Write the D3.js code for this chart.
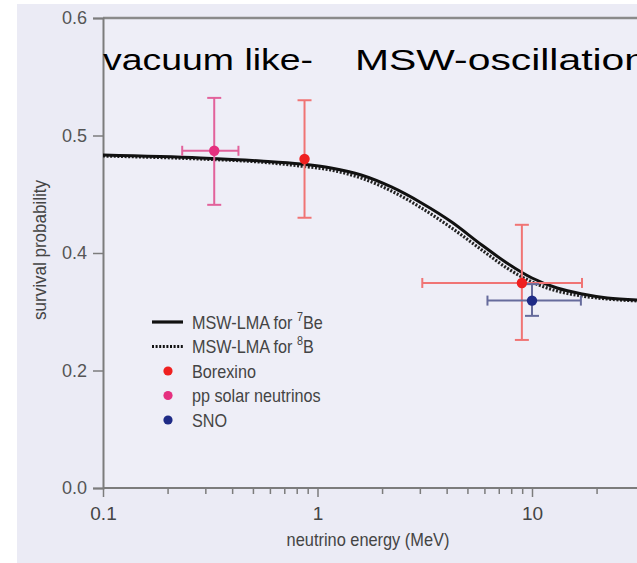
<!DOCTYPE html>
<html>
<head>
<meta charset="utf-8">
<script src="https://cdn.jsdelivr.net/npm/d3@7"></script>
<style>
  html, body { margin: 0; padding: 0; background: #ffffff; }
  svg { display: block; }
  text { font-family: "Liberation Sans", Arial, sans-serif; }
</style>
</head>
<body>
<svg id="chart" width="637" height="563"></svg>
<script>
// ---- data ----
const energyMajorTicks = [0.1, 1, 10];
const energyMajorLabels = ["0.1", "1", "10"];
const energyMinorTicks = [0.2, 0.3, 0.4, 0.5, 0.6, 0.7, 0.8, 0.9, 2, 3, 4, 5, 6, 7, 8, 9, 20];
const probTicks = [0.0, 0.2, 0.4, 0.5, 0.6];
const probTickLabels = ["0.0", "0.2", "0.4", "0.5", "0.6"];

// MSW-LMA survival probability curves (energy in MeV)
const curveEnergy = [0.1, 0.285, 0.544, 0.837, 1.157, 1.598, 2.21, 3.053, 4.221, 5.833, 7.636, 10.0, 13.09, 17.15, 22.46, 31.7];
const be7Survival = [0.4834, 0.4809, 0.4783, 0.4757, 0.4723, 0.4664, 0.4562, 0.4426, 0.4264, 0.4068, 0.3830, 0.3574, 0.3404, 0.3302, 0.3234, 0.3200];
const b8Survival  = [0.4826, 0.4800, 0.4774, 0.4740, 0.4706, 0.4638, 0.4528, 0.4383, 0.4213, 0.4026, 0.3745, 0.3506, 0.3353, 0.3268, 0.3217, 0.3183];

// measurements
const pointSource   = ["pp solar neutrinos", "Borexino", "Borexino", "SNO"];
const pointEnergy   = [0.33, 0.87, 8.97, 10.0];
const pointSurvival = [0.487, 0.480, 0.349, 0.319];
const pointELow     = [0.234, null, 3.08, 6.2];
const pointEHigh    = [0.428, null, 17.1, 16.9];
const pointPLow     = [0.441, 0.430, 0.252, 0.293];
const pointPHigh    = [0.532, 0.530, 0.424, 0.347];

const legendCurves = ["7Be", "8B"];
const legendSources = ["Borexino", "pp solar neutrinos", "SNO"];

const headingLeft = "vacuum like-";
const headingRight = "MSW-oscillation";

// ---- styling ----
const dotColor = { "Borexino": "#ef2020", "pp solar neutrinos": "#e5307f", "SNO": "#1e2a86" };
const barColor = { "Borexino": "#f07474", "pp solar neutrinos": "#e2629b", "SNO": "#666b9c" };
const axisColor = "#7c7c7c";

const svg = d3.select("#chart");

// condensed label: regular face squeezed horizontally
function condensedText(parent, px, py, size, squeeze) {
  return parent.append("text")
    .attr("transform", `translate(${px},${py}) scale(${squeeze},1)`)
    .attr("font-size", size).attr("fill", "#444");
}

// panel background
svg.append("rect").attr("x", 17).attr("y", 4).attr("width", 620).attr("height", 559).attr("fill", "#ebebf5");

const x = d3.scaleLog().domain([0.1, 10]).range([103, 532]);
// the printed scale puts equal spacing between each labelled tick
const y = d3.scaleLinear().domain(probTicks).range([488, 370.5, 253, 135.5, 18]);

// plot area
svg.append("rect").attr("x", x(0.1)).attr("y", y(0.6))
  .attr("width", 637 - x(0.1)).attr("height", y(0) - y(0.6)).attr("fill", "#eeeef7");

// top frame line
svg.append("line").attr("x1", x(0.1)).attr("x2", 637).attr("y1", y(0.6)).attr("y2", y(0.6))
  .attr("stroke", "#8a8a8a").attr("stroke-width", 2.5);

// y axis
const yAxis = d3.axisLeft(y).tickValues(probTicks).tickFormat((d, i) => probTickLabels[i])
  .tickSize(10).tickPadding(6);
const gy = svg.append("g").attr("transform", `translate(${x(0.1)},0)`).call(yAxis);
gy.select(".domain").attr("stroke", axisColor).attr("stroke-width", 2);
gy.selectAll(".tick line").attr("stroke", axisColor).attr("stroke-width", 1.5);
gy.selectAll(".tick text").attr("fill", "#555").attr("font-size", 18)
  .attr("font-family", "Liberation Sans, Arial, sans-serif");

// x axis
const xAxisMajor = d3.axisBottom(x).tickValues(energyMajorTicks)
  .tickFormat((d, i) => energyMajorLabels[i]).tickSize(9).tickPadding(10);
const gx = svg.append("g").attr("transform", `translate(0,${y(0)})`).call(xAxisMajor);
gx.select(".domain").remove();
gx.append("line").attr("x1", x(0.1)).attr("x2", 637).attr("stroke", axisColor).attr("stroke-width", 2);
gx.selectAll(".tick line").attr("stroke", axisColor).attr("stroke-width", 1.5);
gx.selectAll(".tick text").attr("fill", "#444").attr("font-size", 19)
  .attr("font-family", "Liberation Sans, Arial, sans-serif");

const xAxisMinor = d3.axisBottom(x).tickValues(energyMinorTicks).tickFormat("").tickSize(6);
const gxm = svg.append("g").attr("transform", `translate(0,${y(0)})`).call(xAxisMinor);
gxm.select(".domain").remove();
gxm.selectAll(".tick line").attr("stroke", axisColor).attr("stroke-width", 1.5);

// axis titles
condensedText(svg, 368, 546, 18, 0.91).attr("text-anchor", "middle").text("neutrino energy (MeV)");
svg.append("text").attr("transform", "translate(46,250) rotate(-90) scale(0.945,1)")
  .attr("text-anchor", "middle").attr("font-size", 18).attr("fill", "#444").text("survival probability");

// curves
const line = d3.line().x(d => x(d[0])).y(d => y(d[1])).curve(d3.curveMonotoneX);
const b8Pts = curveEnergy.map((e, i) => [e, b8Survival[i]]);
const be7Pts = curveEnergy.map((e, i) => [e, be7Survival[i]]);
svg.append("path").datum(b8Pts).attr("d", line).attr("fill", "none")
  .attr("stroke", "#222").attr("stroke-width", 3.2).attr("stroke-dasharray", "2,1.6");
svg.append("path").datum(be7Pts).attr("d", line).attr("fill", "none")
  .attr("stroke", "#111").attr("stroke-width", 3);

// error bars and points
const pts = pointSource.map((s, i) => ({
  s, e: pointEnergy[i], p: pointSurvival[i],
  eLo: pointELow[i], eHi: pointEHigh[i], pLo: pointPLow[i], pHi: pointPHigh[i]
}));
const bars = svg.append("g");
pts.forEach(d => {
  const c = barColor[d.s];
  const cx = x(d.e), cy = y(d.p);
  bars.append("line").attr("x1", cx).attr("x2", cx).attr("y1", y(d.pLo)).attr("y2", y(d.pHi))
    .attr("stroke", c).attr("stroke-width", 2);
  [d.pLo, d.pHi].forEach(v => bars.append("line").attr("x1", cx - 7).attr("x2", cx + 7)
    .attr("y1", y(v)).attr("y2", y(v)).attr("stroke", c).attr("stroke-width", 2));
  if (d.eLo !== null) {
    bars.append("line").attr("x1", x(d.eLo)).attr("x2", x(d.eHi)).attr("y1", cy).attr("y2", cy)
      .attr("stroke", c).attr("stroke-width", 2);
    [d.eLo, d.eHi].forEach(v => bars.append("line").attr("x1", x(v)).attr("x2", x(v))
      .attr("y1", cy - 5).attr("y2", cy + 5).attr("stroke", c).attr("stroke-width", 2));
  }
});
svg.append("g").selectAll("circle").data(pts).join("circle")
  .attr("cx", d => x(d.e)).attr("cy", d => y(d.p)).attr("r", 5.2)
  .attr("fill", d => dotColor[d.s]);

// legend
const lg = svg.append("g").attr("transform", "translate(152,322)");
const rowH = 24.5;
legendCurves.forEach((iso, i) => {
  const ly = i * rowH;
  lg.append("line").attr("x1", 0).attr("x2", 31).attr("y1", ly).attr("y2", ly)
    .attr("stroke", "#111").attr("stroke-width", 3.2)
    .attr("stroke-dasharray", i === 1 ? "2,1.6" : null);
  const t = condensedText(lg, 40, ly + 6.5, 18, 0.9);
  t.append("tspan").text("MSW-LMA for ");
  t.append("tspan").attr("font-size", 12).attr("dy", -8).text(iso.replace(/[A-Za-z]+/, ""));
  t.append("tspan").attr("dy", 8).text(iso.replace(/[0-9]+/, ""));
});
legendSources.forEach((s, i) => {
  const ly = (i + 2) * rowH;
  lg.append("circle").attr("cx", 16).attr("cy", ly).attr("r", 4.6).attr("fill", dotColor[s]);
  condensedText(lg, 40, ly + 6.5, 18, 0.9).text(s);
});

// regime headings
svg.append("text").attr("x", 103).attr("y", 70).attr("font-size", 30)
  .attr("font-family", "Noto Sans, DejaVu Sans, sans-serif").attr("fill", "#000")
  .attr("textLength", 210).attr("lengthAdjust", "spacingAndGlyphs").text(headingLeft);
svg.append("text").attr("x", 355).attr("y", 70).attr("font-size", 30)
  .attr("font-family", "Noto Sans, DejaVu Sans, sans-serif").attr("fill", "#000")
  .attr("textLength", 292).attr("lengthAdjust", "spacingAndGlyphs").text(headingRight);
</script>
</body>
</html>
